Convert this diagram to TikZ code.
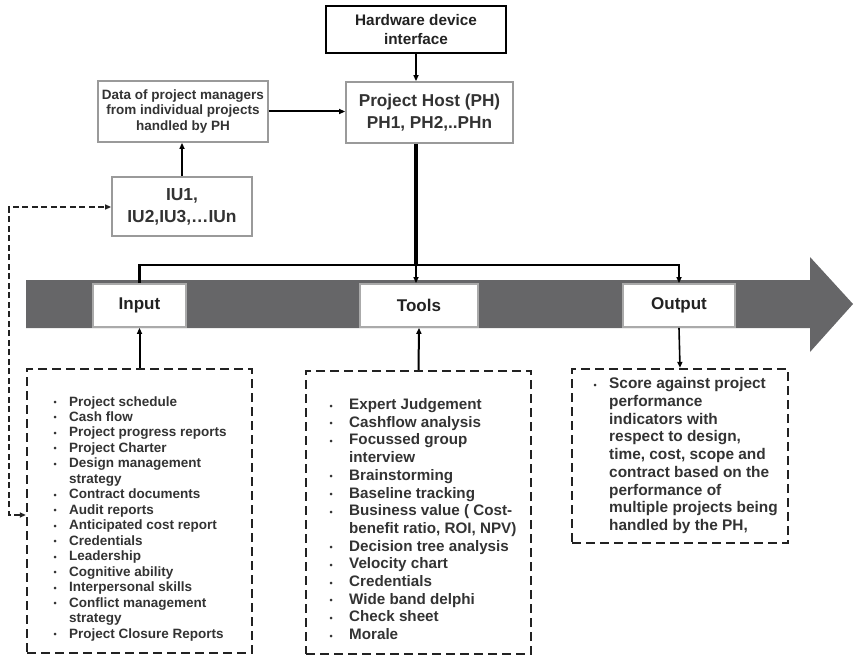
\documentclass[tikz,border=0pt]{standalone}
\usepackage{fontspec}
\setmainfont{Liberation Sans}
\usetikzlibrary{arrows.meta}

\definecolor{ink}{HTML}{333333}
\definecolor{deepink}{HTML}{222222}
\definecolor{bandgray}{HTML}{666668}
\definecolor{framegray}{HTML}{9A9A9A}
\definecolor{labelframe}{HTML}{AAAAAA}

% font size shorthand: size / baseline skip
\newcommand{\fsz}[2]{\fontsize{#1}{#2}\selectfont}
% bullet hung to the left of the text start, centred #1 pt before it
\newcommand{\bul}[1]{\llap{\makebox[0pt][c]{\fsz{9}{9}\raisebox{0.5pt}{•}}\hspace{#1pt}}}

\begin{document}
\begin{tikzpicture}[x=1pt,y=-1pt,
  every node/.style={text=ink, font=\bfseries},
  tip/.style={-{Triangle[length=6pt,width=5pt]}},
  hostbox/.style={draw=framegray, line width=1.8pt, fill=white, inner sep=0pt, align=center},
  hwbox/.style={draw=black, line width=2.4pt, fill=white, inner sep=0pt, align=center},
  stagebox/.style={draw=labelframe, line width=1.8pt, fill=white, inner sep=0pt,
    font=\bfseries\fsz{17}{20}, text=deepink},
  listbox/.style={draw=deepink, line width=2.3pt, dash pattern=on 9pt off 5pt, inner sep=0pt},
  listtext/.style={anchor=base west, inner sep=0pt},
  conn/.style={draw=black, line width=2pt},
  trunk/.style={draw=black, line width=3.2pt},
  feedback/.style={draw=deepink, line width=1.6pt, dash pattern=on 6pt off 3.5pt,
    {Triangle[length=6pt,width=5pt]}-{Triangle[length=6pt,width=5pt]}}]

\useasboundingbox (0,0) rectangle (854,655);

% process band with arrow head
\fill[bandgray] (26,280) -- (810,280) -- (810,257) -- (853,304)
  -- (810,352) -- (810,328) -- (26,328) -- cycle;

% upper boxes
\node[hwbox, minimum width=180pt, minimum height=47pt, font=\bfseries\fsz{15.3}{19}, text=deepink]
  (hw) at (416,29.5) {Hardware device\\interface};
\node[hostbox, minimum width=167pt, minimum height=61pt, font=\bfseries\fsz{17.2}{22}]
  (ph) at (429.5,112.5) {Project Host (PH)\\PH1, PH2,..PHn};
\node[hostbox, minimum width=170pt, minimum height=61pt, font=\bfseries\fsz{13.5}{15.5}]
  (data) at (183,111.5) {Data of project managers\\from individual projects\\handled by PH};
\node[hostbox, minimum width=140pt, minimum height=59pt, font=\bfseries\fsz{17.4}{22}]
  (iu) at (182,206.5) {IU1,\\IU2,IU3,…IUn};

% stage labels on the band
\node[stagebox, minimum width=93pt, minimum height=43pt] (inlab) at (139.5,305.5) {Input};
\node[stagebox, minimum width=118pt, minimum height=43pt] (toollab) at (419,305.5) {Tools};
\node[stagebox, minimum width=112pt, minimum height=43pt] (outlab) at (679,305.5) {Output};

% dashed list frames
\node[listbox, minimum width=225pt, minimum height=284pt] (inbox) at (139.5,511) {};
\node[listbox, minimum width=225pt, minimum height=283pt] (toolbox) at (418.5,512.5) {};
\node[listbox, minimum width=216pt, minimum height=174pt] (outbox) at (680,456) {};

% list contents
\node[listtext] (inlist) at (69,406) {\parbox[t]{180pt}{\fsz{13.5}{15.47}\bfseries\noindent
  \bul{14}Project schedule\\
  \bul{14}Cash flow\\
  \bul{14}Project progress reports\\
  \bul{14}Project Charter\\
  \bul{14}Design management\\
  strategy\\
  \bul{14}Contract documents\\
  \bul{14}Audit reports\\
  \bul{14}Anticipated cost report\\
  \bul{14}Credentials\\
  \bul{14}Leadership\\
  \bul{14}Cognitive ability\\
  \bul{14}Interpersonal skills\\
  \bul{14}Conflict management\\
  strategy\\
  \bul{14}Project Closure Reports}};

\node[listtext] (toollist) at (349,409.5) {\parbox[t]{180pt}{\fsz{15.2}{17.7}\bfseries\noindent
  \bul{18}Expert Judgement\\
  \bul{18}Cashflow analysis\\
  \bul{18}Focussed group\\
  interview\\
  \bul{18}Brainstorming\\
  \bul{18}Baseline tracking\\
  \bul{18}Business value ( Cost-\\
  benefit ratio, ROI, NPV)\\
  \bul{18}Decision tree analysis\\
  \bul{18}Velocity chart\\
  \bul{18}Credentials\\
  \bul{18}Wide band delphi\\
  \bul{18}Check sheet\\
  \bul{18}Morale}};

\node[listtext] (outlist) at (609,388.5) {\parbox[t]{175pt}{\fsz{15.4}{17.75}\bfseries\noindent
  \bul{14}Score against project\\
  performance\\
  indicators with\\
  respect to design,\\
  time, cost, scope and\\
  contract based on the\\
  performance of\\
  multiple projects being\\
  handled by the PH,}};

% connectors between the upper boxes
\draw[conn, tip] (hw.south) -- (hw.south |- ph.north);
\draw[conn, tip] (data.east) -- (data.east -| ph.west);
\draw[conn, line width=2.3pt, tip] (iu.north) -- (iu.north |- data.south);

% trunk from the host down to the distribution line
\coordinate (split) at (416,265);
\draw[trunk] (ph.south -| split) -- (split);
\draw[conn, line width=2.3pt] (inlab.north) |- (split);
\draw[conn, line width=2.3pt, tip] (split) -| (outlab.north);
\draw[conn, tip] (split) -- (toollab.north -| split);

% lists feeding the band
\draw[conn, tip] (inbox.north) -- (inlab.south);
\draw[conn, tip] (toolbox.north) -- (toollab.south);
\draw[conn, line width=1.6pt, tip] (outlab.south) -- (outbox.north);

% feedback loop between the input list and the IU box
\coordinate (fbl) at (9,515);
\coordinate (fbu) at (9,207);
\draw[feedback] (inbox.west |- fbl) -- (fbl) -- (fbu) -- (iu.west |- fbu);

\end{tikzpicture}
\end{document}
